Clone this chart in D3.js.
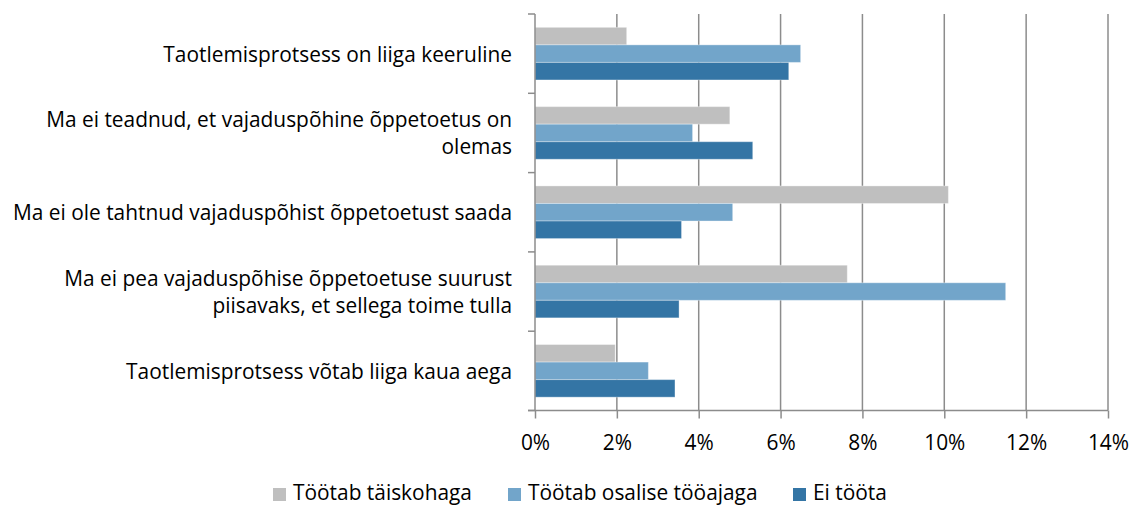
<!DOCTYPE html>
<html><head><meta charset="utf-8">
<script src="https://cdn.jsdelivr.net/npm/d3@7"></script>
<style>body{margin:0;background:#fff}svg{display:block}text{font-family:"Open Sans",sans-serif;fill:#000}</style>
</head><body><svg id="c" width="1136" height="507"></svg>
<script>
const categories = [
  ["Taotlemisprotsess on liiga keeruline"],
  ["Ma ei teadnud, et vajaduspõhine õppetoetus on", "olemas"],
  ["Ma ei ole tahtnud vajaduspõhist õppetoetust saada"],
  ["Ma ei pea vajaduspõhise õppetoetuse suurust", "piisavaks, et sellega toime tulla"],
  ["Taotlemisprotsess võtab liiga kaua aega"]
];
const seriesNames = ["Töötab täiskohaga", "Töötab osalise tööajaga", "Ei tööta"];
const fullTime = [2.24, 4.76, 10.1, 7.63, 1.96];
const partTime = [6.49, 3.85, 4.83, 11.5, 2.77];
const notWorking = [6.2, 5.32, 3.58, 3.52, 3.42];
const xTicks = [0, 2, 4, 6, 8, 10, 12, 14];
const colors = ["#bfbfbf", "#72a5ca", "#3475a5"];

const series = [fullTime, partTime, notWorking];
const svg = d3.select("#c");

const probe = svg.append("text").attr("font-size", 20).text(categories[0][0]);
const fs = 20 * 349 / probe.node().getComputedTextLength();
probe.remove();

const x = d3.scaleLinear().domain([0, 14]).range([535, 1108]);
const y = d3.scaleBand().domain(d3.range(categories.length)).range([14, 410.5]);
const inner = d3.scaleBand().domain(d3.range(3)).range([0, y.bandwidth()]).paddingOuter(0.76).paddingInner(0);

svg.append("g").selectAll("line").data(xTicks.slice(1)).join("line")
  .attr("x1", d => x(d)).attr("x2", d => x(d)).attr("y1", 14).attr("y2", 410.5)
  .attr("stroke", "#8c8c8c").attr("stroke-width", 1.5);

const g = svg.append("g");
series.forEach((vals, si) => {
  g.selectAll(".s" + si).data(vals).join("rect")
    .attr("x", x(0)).attr("y", (d, i) => y(i) + inner(si))
    .attr("width", d => x(d) - x(0)).attr("height", inner.bandwidth())
    .attr("fill", colors[si]).attr("stroke", "rgba(255,255,255,0.35)").attr("stroke-width", 1);
});

svg.append("line").attr("x1", x(0)).attr("x2", x(0)).attr("y1", 14).attr("y2", 410.5)
  .attr("stroke", "#8c8c8c").attr("stroke-width", 1.5);
const yt = d3.range(categories.length + 1).map(i => 14 + i * y.step());
svg.append("g").selectAll("line").data(yt).join("line")
  .attr("x1", 528).attr("x2", x(0)).attr("y1", d => d).attr("y2", d => d)
  .attr("stroke", "#8c8c8c").attr("stroke-width", 1.5);

const xAxis = d3.axisBottom(x).tickValues(xTicks).tickFormat(d => d + "%").tickSize(8).tickPadding(12);
const xg = svg.append("g").attr("transform", "translate(0,410.5)").call(xAxis);
xg.select(".domain").attr("stroke", "#8c8c8c").attr("stroke-width", 1.5).attr("d", `M${x(0)-7},0H${x(14)}`);
xg.selectAll(".tick line").attr("stroke", "#8c8c8c").attr("stroke-width", 1.5);
xg.selectAll(".tick text").attr("font-size", fs).attr("font-family", "'Open Sans',sans-serif").attr("fill", "#000")
  .attr("y", 31).attr("dy", null).attr("dominant-baseline", "central");

const lab = svg.append("g");
categories.forEach((lines, i) => {
  const cy = y(i) + y.bandwidth() / 2;
  const lh = 27;
  lines.forEach((t, j) => {
    lab.append("text").attr("x", 512).attr("y", cy + (j - (lines.length - 1) / 2) * lh)
      .attr("text-anchor", "end").attr("dominant-baseline", "central").attr("font-size", fs).text(t);
  });
});

const legX = [273, 508, 793];
const lg = svg.append("g");
seriesNames.forEach((n, i) => {
  lg.append("rect").attr("x", legX[i]).attr("y", 488).attr("width", 13).attr("height", 13).attr("fill", colors[i]);
  lg.append("text").attr("x", legX[i] + 20).attr("y", 500).attr("font-size", fs).text(n);
});
</script></body></html>
